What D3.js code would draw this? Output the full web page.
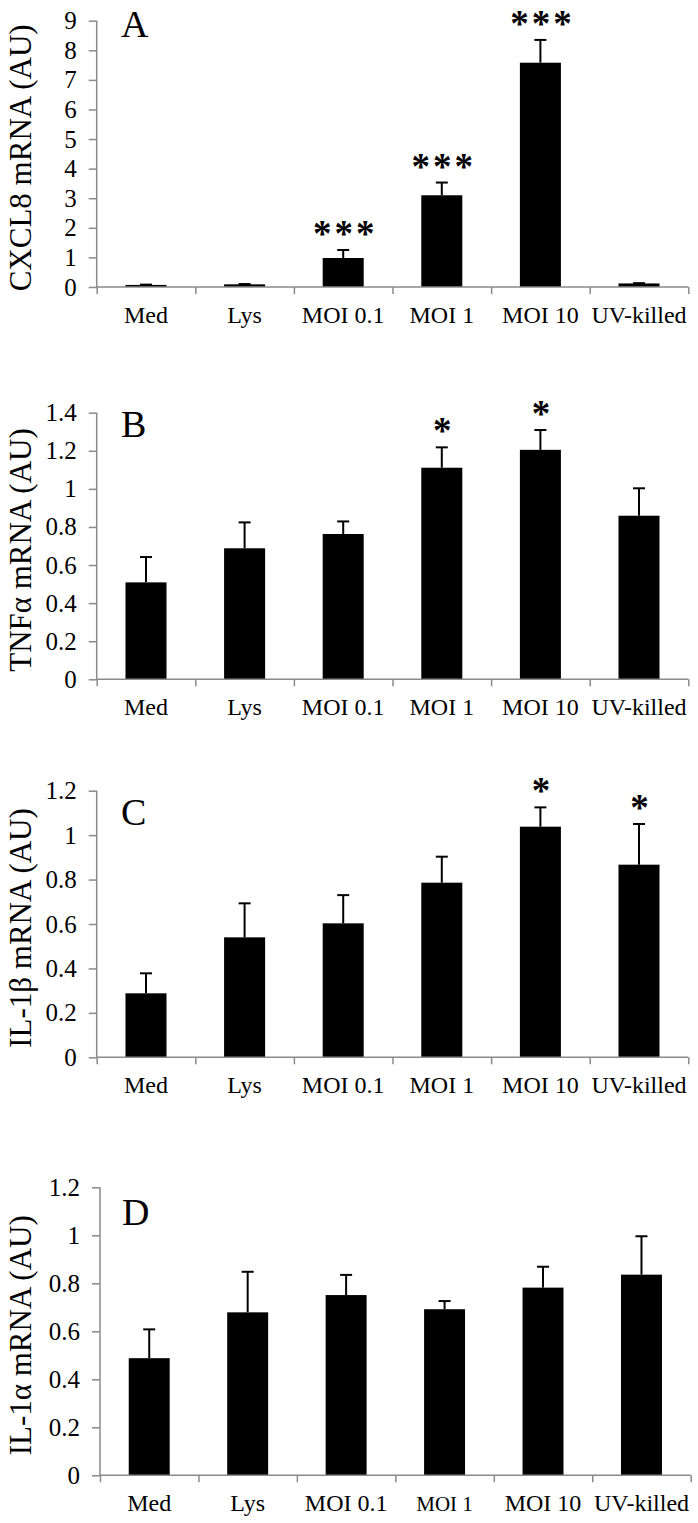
<!DOCTYPE html>
<html>
<head>
<meta charset="utf-8">
<script src="https://cdn.jsdelivr.net/npm/d3@7"></script>
<style>
  html, body { margin: 0; padding: 0; background: #fff; }
  svg { display: block; }
  text { font-family: "Liberation Serif", "Times New Roman", serif; fill: #000; }
</style>
</head>
<body>
<svg id="chart" width="698" height="1523"></svg>
<script>
// ---- data ----
const categories = ["Med", "Lys", "MOI 0.1", "MOI 1", "MOI 10", "UV-killed"];

const cxcl8Mean  = [0.07, 0.09, 0.98, 3.10, 7.58, 0.12];
const cxcl8Err   = [0.01, 0.01, 0.27, 0.43, 0.77, 0.01];
const cxcl8Stars = ["", "", "***", "***", "***", ""];
const cxcl8Ticks = [0, 1, 2, 3, 4, 5, 6, 7, 8, 9];

const tnfMean  = [0.509, 0.688, 0.763, 1.111, 1.205, 0.859];
const tnfErr   = [0.133, 0.136, 0.066, 0.107, 0.104, 0.144];
const tnfStars = ["", "", "", "*", "*", ""];
const tnfTicks = [0, 0.2, 0.4, 0.6, 0.8, 1.0, 1.2, 1.4];

const il1bMean  = [0.288, 0.540, 0.603, 0.786, 1.038, 0.867];
const il1bErr   = [0.090, 0.153, 0.127, 0.117, 0.087, 0.183];
const il1bStars = ["", "", "", "", "*", "*"];
const il1bTicks = [0, 0.2, 0.4, 0.6, 0.8, 1.0, 1.2];

const il1aMean  = [0.488, 0.679, 0.751, 0.692, 0.782, 0.836];
const il1aErr   = [0.120, 0.169, 0.084, 0.034, 0.087, 0.160];
const il1aStars = ["", "", "", "", "", ""];
const il1aTicks = [0, 0.2, 0.4, 0.6, 0.8, 1.0, 1.2];

const panelLetters = ["A", "B", "C", "D"];
const yTitles = ["CXCL8 mRNA (AU)", "TNF\u03b1 mRNA (AU)", "IL-1\u03b2 mRNA (AU)", "IL-1\u03b1 mRNA (AU)"];

// ---- layout (not data) ----
const layouts = [
  { x0: 96.7, x1: 688.3, top: 20.7,  bottom: 287.0,  max: 9,   letterX: 121, letterY: 37,   labelSizes: [24,24,24,24,24,24] },
  { x0: 96.7, x1: 688.3, top: 412.7, bottom: 679.3,  max: 1.4, letterX: 121, letterY: 437,  labelSizes: [24,24,24,24,24,24] },
  { x0: 96.7, x1: 688.3, top: 790.7, bottom: 1057.3, max: 1.2, letterX: 121, letterY: 825,  labelSizes: [24,24,24,24,24,24] },
  { x0: 100,  x1: 690.7, top: 1187.3, bottom: 1475.3, max: 1.2, letterX: 122, letterY: 1225, labelSizes: [24,24,24,21,24,24] }
];

const panels = [
  { mean: cxcl8Mean, err: cxcl8Err, stars: cxcl8Stars, ticks: cxcl8Ticks },
  { mean: tnfMean,   err: tnfErr,   stars: tnfStars,   ticks: tnfTicks },
  { mean: il1bMean,  err: il1bErr,  stars: il1bStars,  ticks: il1bTicks },
  { mean: il1aMean,  err: il1aErr,  stars: il1aStars,  ticks: il1aTicks }
];

const AXIS = "#8a8a8a";
const svg = d3.select("#chart");

panels.forEach((p, i) => {
  const L = layouts[i];
  const g = svg.append("g");

  const x = d3.scaleBand().domain(categories).range([L.x0, L.x1])
    .paddingInner(0.584).paddingOuter(0.292);
  const xb = d3.scaleLinear().domain([0, categories.length]).range([L.x0, L.x1]);
  const y = d3.scaleLinear().domain([0, L.max]).range([L.bottom, L.top]);

  // bars
  g.selectAll("rect.bar").data(categories).join("rect")
    .attr("class", "bar")
    .attr("x", d => x(d))
    .attr("width", x.bandwidth())
    .attr("y", (d, k) => y(p.mean[k]))
    .attr("height", (d, k) => y(0) - y(p.mean[k]))
    .attr("fill", "#000");

  // error bars (upper only)
  const eb = g.selectAll("g.err").data(categories).join("g").attr("class", "err");
  eb.append("line")
    .attr("x1", d => x(d) + x.bandwidth() / 2)
    .attr("x2", d => x(d) + x.bandwidth() / 2)
    .attr("y1", (d, k) => y(p.mean[k]))
    .attr("y2", (d, k) => y(p.mean[k] + p.err[k]))
    .attr("stroke", "#000").attr("stroke-width", 2);
  eb.append("line")
    .attr("x1", d => x(d) + x.bandwidth() / 2 - 6)
    .attr("x2", d => x(d) + x.bandwidth() / 2 + 6)
    .attr("y1", (d, k) => y(p.mean[k] + p.err[k]))
    .attr("y2", (d, k) => y(p.mean[k] + p.err[k]))
    .attr("stroke", "#000").attr("stroke-width", 2);

  // significance stars
  g.selectAll("text.star").data(categories).join("text")
    .attr("class", "star")
    .attr("x", d => x(d) + x.bandwidth() / 2 + 2)
    .attr("y", (d, k) => y(p.mean[k] + p.err[k]) - 4)
    .attr("text-anchor", "middle")
    .attr("font-size", 37)
    .attr("font-weight", "bold")
    .attr("letter-spacing", "3px")
    .text((d, k) => p.stars[k]);

  // y axis
  const yAxis = g.append("g").attr("transform", `translate(${L.x0},0)`)
    .call(d3.axisLeft(y).tickValues(p.ticks).tickSize(8).tickPadding(12)
      .tickFormat(v => String(+v.toFixed(1))));
  yAxis.select(".domain").attr("stroke", AXIS).attr("stroke-width", 1.5)
    .attr("d", `M0,${L.top}V${L.bottom}`);
  yAxis.selectAll(".tick line").attr("stroke", AXIS).attr("stroke-width", 1.5);
  yAxis.selectAll(".tick text").attr("font-size", 25)
    .attr("font-family", "Liberation Serif").attr("fill", "#000");

  // x axis line with boundary ticks
  const xAxisB = g.append("g").attr("transform", `translate(0,${L.bottom})`)
    .call(d3.axisBottom(xb).tickValues(d3.range(0, categories.length + 1)).tickSize(7).tickFormat(""));
  xAxisB.select(".domain").attr("stroke", AXIS).attr("stroke-width", 1.5)
    .attr("d", `M${L.x0},0H${L.x1}`);
  xAxisB.selectAll(".tick line").attr("stroke", AXIS).attr("stroke-width", 1.5);

  // category labels
  const xAxisL = g.append("g").attr("transform", `translate(0,${L.bottom})`)
    .call(d3.axisBottom(x).tickSize(0).tickPadding(0));
  xAxisL.select(".domain").remove();
  xAxisL.selectAll(".tick text")
    .attr("y", 36).attr("dy", 0)
    .attr("font-size", (d, k) => L.labelSizes[k])
    .attr("font-family", "Liberation Serif").attr("fill", "#000");

  // y title
  g.append("text")
    .attr("transform", `translate(31,${(L.top + L.bottom) / 2 + 4}) rotate(-90)`)
    .attr("text-anchor", "middle")
    .attr("font-size", 31)
    .text(yTitles[i]);

  // panel letter
  g.append("text")
    .attr("x", L.letterX).attr("y", L.letterY)
    .attr("font-size", 38)
    .text(panelLetters[i]);
});
</script>
</body>
</html>
